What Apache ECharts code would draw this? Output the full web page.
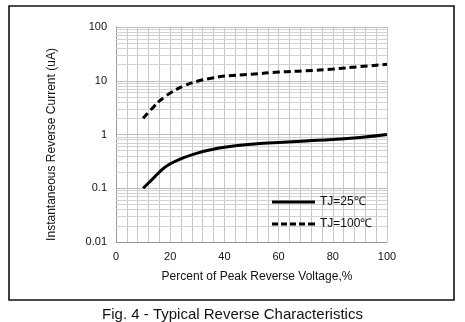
<!DOCTYPE html>
<html><head><meta charset="utf-8">
<script src="https://cdn.jsdelivr.net/npm/echarts@6/dist/echarts.min.js"></script>
<style>html,body{margin:0;padding:0;background:#fff}#c{width:465px;height:322px}</style>
</head><body><div id="c"></div>
<script>
const voltagePct = [10, 12, 14, 16, 18, 20, 25, 30, 35, 40, 50, 60, 70, 80, 90, 100];
const current25 = [0.1, 0.125, 0.158, 0.2, 0.245, 0.285, 0.37, 0.45, 0.52, 0.58, 0.66, 0.71, 0.76, 0.81, 0.88, 1.0];
const current100 = [2.0, 2.6, 3.3, 4.2, 5.0, 5.9, 8.0, 9.8, 11.1, 12.2, 13.2, 14.5, 15.3, 16.5, 18.3, 20.2];
const seriesNames = ['TJ=25℃', 'TJ=100℃'];
const yTickLabels = ['0.01', '0.1', '1', '10', '100'];
const decades = [0.01, 0.1, 1, 10];
const minorMultipliers = [2, 3, 4, 5, 6, 7, 8, 9];

const minorLines = [];
decades.forEach(d => minorMultipliers.forEach(m => minorLines.push({ yAxis: +(d * m).toPrecision(3) })));

const font = 'Liberation Sans, Arial, sans-serif';
const solidIcon = 'path://M0,0H43V3H0Z';
const dashIcon = 'path://M0,0H6V3H0Z M9,0H15V3H9Z M18,0H24V3H18Z M27,0H33V3H27Z M36,0H43V3H36Z';
const chart = echarts.init(document.getElementById('c'));
chart.setOption({
  animation: false,
  backgroundColor: '#fff',
  title: {
    text: 'Fig. 4 - Typical Reverse Characteristics',
    left: 'center', top: 302,
    textStyle: { fontFamily: font, fontSize: 15, fontWeight: 'normal', color: '#111' }
  },
  graphic: [{
    type: 'rect', shape: { x: 9, y: 6, width: 445, height: 294 },
    style: { fill: 'none', stroke: '#111', lineWidth: 1.6 }, silent: true, z: -1
  }],
  grid: { left: 116, right: 78, top: 27, bottom: 80 },
  legend: {
    orient: 'vertical', left: 272, top: 196, padding: 0, itemWidth: 43, itemHeight: 14, itemGap: 10, z: 20,
    data: [{ name: seriesNames[0], icon: solidIcon }, { name: seriesNames[1], icon: dashIcon }],
    textStyle: { fontFamily: font, fontSize: 12, color: '#111', padding: [4, 0, 0, 0] }
  },
  xAxis: {
    type: 'value', min: 0, max: 100, interval: 20,
    name: 'Percent of Peak Reverse Voltage,%', nameLocation: 'middle', nameGap: 29,
    nameTextStyle: { fontFamily: font, fontSize: 12, color: '#111', padding: [0, 0, 0, 11] },
    axisLine: { show: true, lineStyle: { color: '#999' } },
    axisTick: { show: false },
    axisLabel: { fontFamily: font, fontSize: 11, color: '#111', margin: 9 },
    splitLine: { show: true, lineStyle: { color: '#c6c6c6', width: 1 } },
    minorTick: { show: false, splitNumber: 5 },
    minorSplitLine: { show: true, lineStyle: { color: '#c6c6c6', width: 1 } }
  },
  yAxis: {
    type: 'log', logBase: 10, min: 0.01, max: 100,
    name: 'Instantaneous Reverse Current (uA)', nameLocation: 'middle', nameGap: 58,
    nameTextStyle: { fontFamily: font, fontSize: 12, color: '#111', padding: [0, 20, 0, 0] },
    axisLine: { show: true, lineStyle: { color: '#999' } },
    axisTick: { show: false },
    axisLabel: {
      fontFamily: font, fontSize: 11, color: '#111', margin: 9,
      formatter: v => { const i = Math.round(Math.log10(v)) + 2; return yTickLabels[i] ?? ''; }
    },
    splitLine: { show: true, lineStyle: { color: '#bdbdbd', width: 1 } }
  },
  series: [
    {
      name: seriesNames[0], type: 'line', smooth: 0.5, symbol: 'none', showSymbol: false,
      data: voltagePct.map((x, i) => [x, current25[i]]),
      lineStyle: { color: '#000', width: 3, type: 'solid' }, itemStyle: { color: '#000' }, z: 5
    },
    {
      name: seriesNames[1], type: 'line', smooth: 0.5, symbol: 'none', showSymbol: false,
      data: voltagePct.map((x, i) => [x, current100[i]]),
      lineStyle: { color: '#000', width: 3, type: [7, 4] }, itemStyle: { color: '#000' }, z: 5
    },
    {
      name: 'grid', type: 'line', data: [], silent: true, z: 1,
      markLine: {
        silent: true, symbol: 'none', label: { show: false }, animation: false,
        lineStyle: { color: '#d2d2d2', width: 1, type: 'solid' },
        data: minorLines
      }
    }
  ]
});
</script></body></html>
